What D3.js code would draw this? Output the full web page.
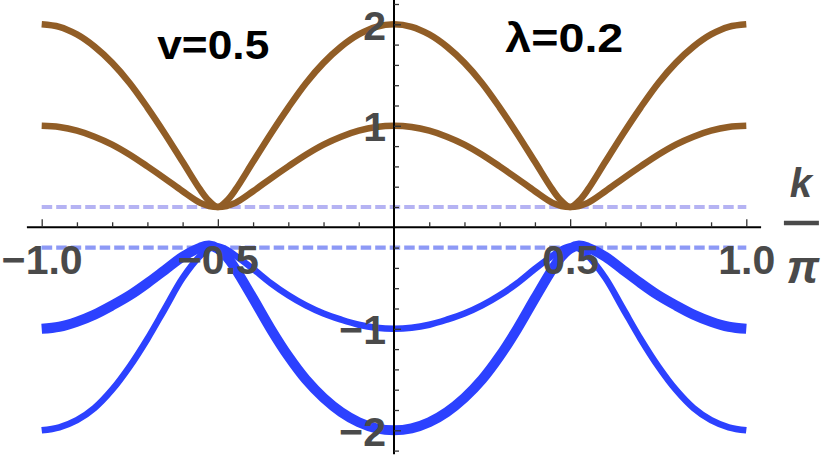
<!DOCTYPE html>
<html><head><meta charset="utf-8">
<script src="https://cdn.jsdelivr.net/npm/d3@7"></script>
<style>
html,body{margin:0;padding:0;background:#fff;}
svg{display:block;}
text{font-family:"Liberation Sans",Arial,sans-serif;}
</style></head>
<body>
<svg id="chart" width="830" height="462"></svg>
<script>
// k/π sample positions
const kValues = [-1,-0.95,-0.9,-0.85,-0.8,-0.75,-0.7,-0.65,-0.6,-0.55,-0.525,-0.5,-0.475,-0.45,-0.4,-0.35,-0.3,-0.25,-0.2,-0.15,-0.1,-0.05,
  0,0.05,0.1,0.15,0.2,0.25,0.3,0.35,0.4,0.45,0.475,0.5,0.525,0.55,0.6,0.65,0.7,0.75,0.8,0.85,0.9,0.95,1];
// upper brown band (reaches 2)
const brownOuter = [2.00,1.975,1.90,1.78,1.62,1.42,1.18,0.92,0.645,0.37,0.26,0.20,0.26,0.37,0.645,0.92,1.18,1.42,1.62,1.78,1.90,1.975,
  2.00,1.975,1.90,1.78,1.62,1.42,1.18,0.92,0.645,0.37,0.26,0.20,0.26,0.37,0.645,0.92,1.18,1.42,1.62,1.78,1.90,1.975,2.00];
// upper brown band (reaches 1)
const brownInner = [1.00,0.988,0.952,0.893,0.815,0.715,0.60,0.48,0.355,0.24,0.21,0.20,0.21,0.24,0.355,0.48,0.60,0.715,0.815,0.893,0.952,0.988,
  1.00,0.988,0.952,0.893,0.815,0.715,0.60,0.48,0.355,0.24,0.21,0.20,0.21,0.24,0.355,0.48,0.60,0.715,0.815,0.893,0.952,0.988,1.00];
// lower blue band, thick stroke (-1 at edges, -2 at centre)
const blueThick = [-1.00,-0.98,-0.93,-0.86,-0.77,-0.67,-0.55,-0.42,-0.29,-0.20,-0.18,-0.21,-0.29,-0.41,-0.70,-1.00,-1.27,-1.50,-1.68,-1.82,-1.92,-1.98,
  -2.00,-1.98,-1.92,-1.82,-1.68,-1.50,-1.27,-1.00,-0.70,-0.41,-0.29,-0.21,-0.18,-0.20,-0.29,-0.42,-0.55,-0.67,-0.77,-0.86,-0.93,-0.98,-1.00];
// lower blue band, thin stroke (-2 at edges, -1 at centre)
const blueThin = [-2.00,-1.97,-1.90,-1.78,-1.60,-1.37,-1.10,-0.80,-0.50,-0.28,-0.21,-0.19,-0.22,-0.28,-0.41,-0.55,-0.67,-0.77,-0.85,-0.91,-0.96,-0.99,
  -1.00,-0.99,-0.96,-0.91,-0.85,-0.77,-0.67,-0.55,-0.41,-0.28,-0.22,-0.19,-0.21,-0.28,-0.50,-0.80,-1.10,-1.37,-1.60,-1.78,-1.90,-1.97,-2.00];
// dashed reference levels
const dashLevels = [0.2, -0.2];
const dashColors = ["#b5b3f3", "#8d99f6"];
// ticks
const xMajorTicks = [-1, -0.5, 0.5, 1];
const xMinorTicks = [-0.9,-0.8,-0.7,-0.6,-0.4,-0.3,-0.2,-0.1,0.1,0.2,0.3,0.4,0.6,0.7,0.8,0.9];
const yMajorTicks = [-2, -1, 1, 2];
const yMinorTicks = [-2.2,-1.8,-1.6,-1.4,-1.2,-0.8,-0.6,-0.4,-0.2,0.2,0.4,0.6,0.8,1.2,1.4,1.6,1.8,2.2];
const annotations = [{text:"v=0.5", k:-0.672, v:1.66, w:112}, {text:"λ=0.2", k:0.316, v:1.73, w:118}];

const svg = d3.select("#chart");
const x = d3.scaleLinear().domain([-1, 1]).range([41.7, 746.3]);
const y = d3.scaleLinear().domain([-2, 2]).range([430.3, 24.3]);

const gray = "#4a4a4a";
const brown = "#915d26";
const blue = "#2c41ff";

// dashed lines
svg.selectAll("line.dash").data(dashLevels).join("line")
  .attr("class","dash")
  .attr("x1", x(-1)).attr("x2", x(1))
  .attr("y1", d => y(d)).attr("y2", d => y(d))
  .attr("stroke", (d,i) => dashColors[i]).attr("stroke-width", 4.2)
  .attr("stroke-dasharray", "10.5,4");

const line = vals => d3.line()
  .x((d,i) => x(kValues[i]))
  .y(d => y(d))
  .curve(d3.curveCatmullRom.alpha(0.5))(vals);

const series = [
  {vals: brownOuter, color: brown, w: 6.5},
  {vals: brownInner, color: brown, w: 6.5},
  {vals: blueThin, color: blue, w: 6.5},
  {vals: blueThick, color: blue, w: 10}
];
svg.selectAll("path.curve").data(series).join("path")
  .attr("class","curve")
  .attr("d", d => line(d.vals))
  .attr("fill","none")
  .attr("stroke", d => d.color)
  .attr("stroke-width", d => d.w)
  .attr("stroke-linejoin","round");

// axes lines
const y0 = y(0), x0 = x(0);
svg.append("line").attr("x1", x(-1.042)).attr("x2", x(1.042)).attr("y1", y0).attr("y2", y0)
  .attr("stroke","#000").attr("stroke-width",2);
svg.append("line").attr("x1", x0).attr("x2", x0).attr("y1", y(2.25)).attr("y2", y(-2.235))
  .attr("stroke","#000").attr("stroke-width",2);

// x axis ticks
const xMajor = svg.append("g").attr("transform", `translate(0,${y0})`)
  .call(d3.axisBottom(x).tickValues(xMajorTicks).tickSizeInner(-8).tickSizeOuter(0).tickPadding(18)
        .tickFormat(d3.format(".1f")));
const xMinor = svg.append("g").attr("transform", `translate(0,${y0})`)
  .call(d3.axisBottom(x).tickValues(xMinorTicks).tickSizeInner(-5).tickSizeOuter(0).tickFormat(""));
// y axis ticks
const yMajor = svg.append("g").attr("transform", `translate(${x0},0)`)
  .call(d3.axisLeft(y).tickValues(yMajorTicks).tickSizeInner(-7).tickSizeOuter(0).tickPadding(8)
        .tickFormat(d3.format("d")));
const yMinor = svg.append("g").attr("transform", `translate(${x0},0)`)
  .call(d3.axisLeft(y).tickValues(yMinorTicks).tickSizeInner(-5).tickSizeOuter(0).tickFormat(""));

[xMajor, xMinor, yMajor, yMinor].forEach(g => {
  g.select(".domain").remove();
  g.selectAll(".tick line").attr("stroke", "#333").attr("stroke-width", 1.3);
  g.selectAll("text").attr("font-family", "Liberation Sans, Arial, sans-serif")
    .attr("font-weight","bold").attr("font-size", 41).attr("fill", gray);
});
yMajor.selectAll("text").attr("dy", "0.36em");

// axis label k/π
const lab = svg.append("g").attr("transform", `translate(${x(1.155)},0)`);
lab.append("text").attr("x", 0).attr("y", 197).attr("text-anchor","middle")
  .attr("font-size", 40).attr("font-weight","bold").attr("font-style","italic").attr("fill", gray).text("k");
lab.append("line").attr("x1", -17).attr("x2", 18).attr("y1", 223).attr("y2", 223)
  .attr("stroke", gray).attr("stroke-width", 4.5);
lab.append("text").attr("x", 2).attr("y", 283).attr("text-anchor","middle")
  .attr("font-size", 46).attr("font-weight","bold").attr("font-style","italic").attr("fill", gray).text("π");

// annotations
svg.selectAll("text.note").data(annotations).join("text")
  .attr("class","note")
  .attr("x", d => x(d.k)).attr("y", d => y(d.v))
  .attr("font-size", 40).attr("font-weight","bold").attr("fill","#000")
  .attr("textLength", d => d.w).attr("lengthAdjust","spacingAndGlyphs")
  .text(d => d.text);
</script>
</body></html>
